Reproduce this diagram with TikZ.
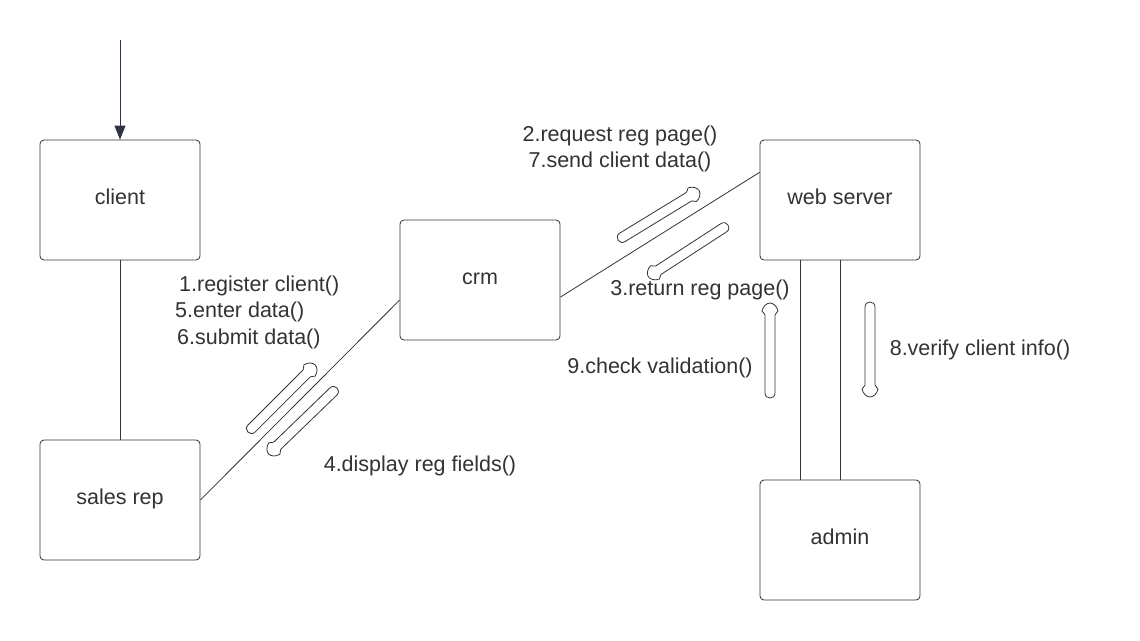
\documentclass[tikz,border=0pt]{standalone}
\usepackage{fontspec}
\setmainfont{Liberation Sans}
\usetikzlibrary{arrows.meta,calc}
\definecolor{ink}{HTML}{333333}
\definecolor{navy}{HTML}{2F3342}
\begin{document}
\begin{tikzpicture}[x=1pt,y=-1pt,
  font=\fontsize{21.5}{26}\selectfont,
  box/.style={draw=ink, line width=0.8pt, rounded corners=4pt, minimum width=160pt, minimum height=120pt, inner sep=0pt, text=ink, text height=15pt, text depth=7pt},
  link/.style={draw=ink, line width=0.8pt},
  lbl/.style={text=ink, inner sep=0pt},
  msg/.pic={\draw[ink, line width=0.8pt, fill=white, line join=round]
     (0,5) -- (78,5) .. controls (80,5) and (80.5,8) .. (82,8)
     .. controls (87,7) and (90,3) .. (90,0)
     .. controls (90,-3) and (87,-7) .. (82,-8)
     .. controls (80.5,-8) and (80,-5) .. (78,-5) -- (0,-5)
     .. controls (-6.7,-5) and (-6.7,5) .. (0,5) -- cycle;}
]
\useasboundingbox[fill=white] (0,0) rectangle (1140,640);

\node[box] (client) at (120,200) {client};
\node[box] (salesrep) at (120,500) {sales rep};
\node[box] (crm) at (480,280) {crm};
\node[box] (ws) at (840,200) {web server};
\node[box] (admin) at (840,540) {admin};

\coordinate (start) at (120,40);
\draw[navy, line width=0.8pt, -{Triangle[length=14pt,width=11pt]}] (start) -- (client.north);

\draw[link] (client.south) -- (salesrep.north);
\draw[link] (salesrep.east) -- (crm.194);
\draw[link] (crm.-12) -- (ws.161);
\draw[link] ($(ws.south)+(-40,0)$) -- ($(admin.north)+(-40,0)$);
\draw[link] (ws.south) -- (admin.north);

\pic[rotate=45] at (251.5,428.5) {msg};
\pic[rotate=224] at (333.4,391.5) {msg};
\pic[rotate=31.4] at (622.3,237.4) {msg};
\pic[rotate=213] at (723.8,227.7) {msg};
\pic[rotate=90] at (770,393) {msg};
\pic[rotate=270] at (870,307) {msg};

\node[lbl, anchor=west] (m1) at (179,286) {1.register client()};
\node[lbl, anchor=west] (m5) at (175,312) {5.enter data()};
\node[lbl, anchor=west] (m6) at (177,339) {6.submit data()};
\node[lbl] (m2) at (620,136) {2.request reg page()};
\node[lbl] (m7) at (620,162) {7.send client data()};
\node[lbl] (m3) at (700,290) {3.return reg page()};
\node[lbl] (m4) at (420,466) {4.display reg fields()};
\node[lbl] (m9) at (660,368) {9.check validation()};
\node[lbl] (m8) at (980,350) {8.verify client info()};
\end{tikzpicture}
\end{document}
